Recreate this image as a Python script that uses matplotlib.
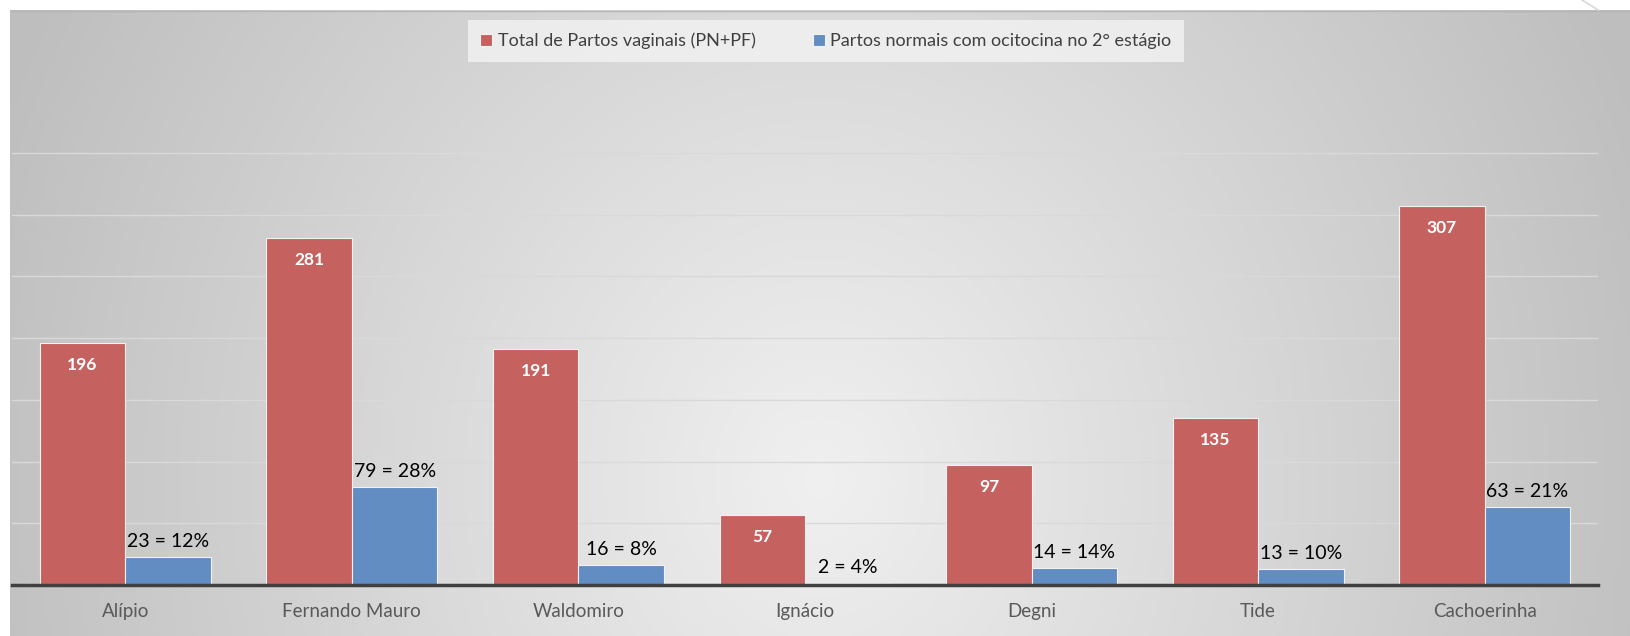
import matplotlib.pyplot as plt
import numpy as np

# data
hospitais = ['Alípio', 'Fernando Mauro', 'Waldomiro', 'Ignácio', 'Degni', 'Tide', 'Cachoerinha']
total_vaginais = [196, 281, 191, 57, 97, 135, 307]
ocitocina = [23, 79, 16, 2, 14, 13, 63]
ocitocina_pct = [12, 28, 8, 4, 14, 10, 21]

serie1 = 'Total de Partos vaginais (PN+PF)'
serie2 = 'Partos normais com ocitocina no 2° estágio'

cor_vermelho = '#C5625F'
cor_azul = '#628DC3'

plt.rcParams['font.family'] = ['Lato', 'DejaVu Sans']

W, H = 1630, 636
fig = plt.figure(figsize=(W / 100, H / 100), dpi=100)
fig.patch.set_facecolor('white')

# grey radial background of the chart area
bg = fig.add_axes([10 / W, 0, 1 - 10 / W, 1 - 10 / H])
xx, yy = np.meshgrid(np.linspace(0, 1, 400), np.linspace(0, 1, 160))
d = np.sqrt(((xx - 0.5) / 0.55) ** 2 + ((yy - 0.75) / 1.6) ** 2)
g = 240 - 50 * np.clip(d, 0, 1)
bg.imshow(np.dstack([g, g, g]).astype(np.uint8), aspect='auto', extent=[0, 1, 0, 1])
bg.axis('off')
bg.plot([0, 1], [0.999, 0.999], color='#b5b5b5', lw=1)

# slide corner decoration
fig.add_artist(plt.Line2D([1582 / W, 1598 / W], [1, 1 - 10 / H], color='#d8d8d8', lw=1.2))

ax = fig.add_axes([12 / W, 1 - 585 / H, (1598 - 12) / W, (585 - 10) / H])
ax.patch.set_alpha(0)

x = np.arange(len(hospitais))
w = 0.377
ax.bar(x - w / 2, total_vaginais, w, color=cor_vermelho, edgecolor='#f2f2f2', lw=0.8, label=serie1, zorder=3)
ax.bar(x + w / 2, ocitocina, w, color=cor_azul, edgecolor='#f2f2f2', lw=0.8, label=serie2, zorder=3)

for i, v in enumerate(total_vaginais):
    ax.annotate(str(v), (x[i] - w / 2, v), xytext=(0, -16), textcoords='offset points',
                ha='center', va='center', color='white', fontsize=12.5, fontweight='bold', zorder=4)
for i, v in enumerate(ocitocina):
    ax.annotate(f'{v} = {ocitocina_pct[i]}%', (x[i] + w / 2, v), xytext=(0, 5), textcoords='offset points',
                ha='center', va='bottom', color='black', fontsize=14, zorder=4)

ax.set_xlim(-0.5, len(hospitais) - 0.5)
ax.set_ylim(0, (585 - 10) / 1.235)
ax.set_yticks(np.arange(0, 351, 50))
ax.yaxis.grid(True, color='#d9d9d9', lw=1, zorder=0)
ax.tick_params(axis='y', left=False, labelleft=False)
ax.set_xticks(x)
ax.set_xticklabels(hospitais, fontsize=13.5, color='#595959')
ax.tick_params(axis='x', length=0, pad=13)
for s in ['top', 'right', 'left']:
    ax.spines[s].set_visible(False)
ax.spines['bottom'].set_color('#404040')
ax.spines['bottom'].set_linewidth(2.5)
ax.spines['bottom'].set_zorder(5)

leg = fig.legend(loc='center', bbox_to_anchor=(826 / W, 1 - 41 / H), ncol=2, frameon=True,
                 fontsize=13, handlelength=0.65, handleheight=0.65, handletextpad=0.3,
                 columnspacing=3.2, borderpad=0.7, borderaxespad=0, fancybox=False)
leg.get_frame().set_facecolor('#f1f1f1')
leg.get_frame().set_edgecolor('none')
leg.get_frame().set_alpha(0.85)
for t in leg.get_texts():
    t.set_color('#404040')

plt.savefig('out.png', dpi=100)
